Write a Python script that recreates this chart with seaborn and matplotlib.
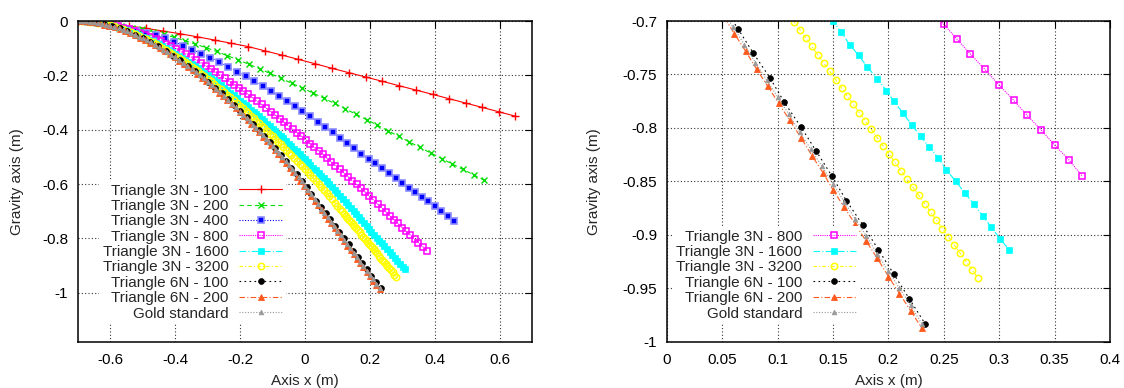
import matplotlib
matplotlib.use("Agg")
import matplotlib.pyplot as plt
import seaborn as sns

# ---------------- data ----------------
labels = ["Triangle 3N - 100", "Triangle 3N - 200", "Triangle 3N - 400",
          "Triangle 3N - 800", "Triangle 3N - 1600", "Triangle 3N - 3200",
          "Triangle 6N - 100", "Triangle 6N - 200", "Gold standard"]

tri3n_100_x = [-0.700, -0.648, -0.596, -0.543, -0.490, -0.437, -0.384, -0.332, -0.279, -0.227,
               -0.175, -0.123, -0.072, -0.021, 0.031, 0.083, 0.135, 0.187, 0.239, 0.290,
               0.342, 0.394, 0.445, 0.496, 0.547, 0.598, 0.648]
tri3n_100_y = [0.000, -0.005, -0.011, -0.018, -0.027, -0.037, -0.047, -0.058, -0.070, -0.082,
               -0.094, -0.110, -0.125, -0.141, -0.157, -0.174, -0.190, -0.206, -0.222, -0.238,
               -0.254, -0.270, -0.286, -0.302, -0.318, -0.334, -0.350]

tri3n_200_x = [-0.700, -0.667, -0.634, -0.601, -0.568, -0.535, -0.502, -0.469, -0.436, -0.404,
               -0.371, -0.338, -0.305, -0.272, -0.239, -0.206, -0.173, -0.140, -0.107, -0.074,
               -0.041, -0.008, 0.025, 0.058, 0.091, 0.124, 0.157, 0.190, 0.223, 0.256,
               0.289, 0.322, 0.355, 0.388, 0.421, 0.454, 0.487, 0.520, 0.553]
tri3n_200_y = [0.000, -0.003, -0.007, -0.012, -0.018, -0.024, -0.031, -0.039, -0.049, -0.060,
               -0.072, -0.085, -0.098, -0.112, -0.128, -0.143, -0.159, -0.176, -0.193, -0.211,
               -0.229, -0.247, -0.265, -0.284, -0.303, -0.323, -0.343, -0.363, -0.383, -0.404,
               -0.424, -0.445, -0.465, -0.486, -0.506, -0.526, -0.546, -0.566, -0.586]

tri3n_400_x = [-0.700, -0.670, -0.640, -0.610, -0.580, -0.550, -0.520, -0.490, -0.460, -0.432,
               -0.404, -0.376, -0.348, -0.320, -0.292, -0.264, -0.237, -0.210, -0.183, -0.157,
               -0.131, -0.106, -0.081, -0.056, -0.032, -0.008, 0.016, 0.039, 0.062, 0.085,
               0.108, 0.130, 0.152, 0.174, 0.196, 0.217, 0.238, 0.259, 0.280, 0.300,
               0.320, 0.340, 0.360, 0.380, 0.400, 0.420, 0.441, 0.461]
tri3n_400_y = [0.000, -0.004, -0.009, -0.015, -0.021, -0.028, -0.036, -0.044, -0.053, -0.064,
               -0.076, -0.091, -0.105, -0.120, -0.135, -0.151, -0.168, -0.186, -0.204, -0.221,
               -0.240, -0.258, -0.276, -0.294, -0.312, -0.331, -0.351, -0.371, -0.390, -0.410,
               -0.430, -0.450, -0.469, -0.488, -0.506, -0.524, -0.542, -0.559, -0.577, -0.595,
               -0.613, -0.630, -0.647, -0.664, -0.681, -0.699, -0.717, -0.736]

tri3n_800_x = [-0.700, -0.682, -0.665, -0.647, -0.630, -0.612, -0.595, -0.578, -0.561, -0.544,
               -0.527, -0.510, -0.494, -0.477, -0.461, -0.445, -0.429, -0.413, -0.397, -0.381,
               -0.366, -0.351, -0.336, -0.321, -0.306, -0.291, -0.276, -0.261, -0.247, -0.232,
               -0.218, -0.204, -0.190, -0.176, -0.162, -0.148, -0.134, -0.120, -0.106, -0.092,
               -0.078, -0.065, -0.051, -0.038, -0.024, -0.011, 0.002, 0.016, 0.029, 0.042,
               0.055, 0.068, 0.081, 0.094, 0.107, 0.120, 0.133, 0.146, 0.159, 0.172,
               0.185, 0.198, 0.211, 0.224, 0.237, 0.250, 0.262, 0.274, 0.287, 0.300,
               0.313, 0.325, 0.338, 0.350, 0.363, 0.375]
tri3n_800_y = [0.000, -0.000, -0.001, -0.003, -0.006, -0.009, -0.013, -0.019, -0.024, -0.029,
               -0.036, -0.043, -0.050, -0.058, -0.066, -0.074, -0.083, -0.092, -0.102, -0.113,
               -0.122, -0.132, -0.143, -0.154, -0.165, -0.176, -0.188, -0.199, -0.210, -0.223,
               -0.234, -0.246, -0.258, -0.270, -0.282, -0.295, -0.307, -0.320, -0.333, -0.346,
               -0.359, -0.372, -0.385, -0.398, -0.411, -0.424, -0.437, -0.451, -0.465, -0.478,
               -0.491, -0.505, -0.518, -0.532, -0.545, -0.559, -0.573, -0.587, -0.601, -0.615,
               -0.629, -0.643, -0.658, -0.673, -0.688, -0.703, -0.717, -0.731, -0.745, -0.760,
               -0.774, -0.788, -0.802, -0.816, -0.830, -0.845]

tri3n_1600_x = [-0.700, -0.6875, -0.675, -0.6625, -0.650, -0.6375, -0.625, -0.6125, -0.600, -0.5875,
                -0.575, -0.5625, -0.550, -0.5375, -0.525, -0.5125,
                -0.50, -0.49, -0.48, -0.47, -0.46, -0.45, -0.44, -0.43, -0.42, -0.41,
                -0.40, -0.39, -0.38, -0.37, -0.36, -0.35, -0.34, -0.33, -0.32, -0.31,
                -0.30, -0.29, -0.28, -0.27, -0.26, -0.25, -0.24, -0.23, -0.22, -0.21,
                -0.200, -0.1917, -0.1833, -0.175, -0.1667, -0.1583, -0.150, -0.1417, -0.1333, -0.125,
                -0.1167, -0.1083, -0.100, -0.0917, -0.0833, -0.075, -0.0667, -0.0583, -0.050, -0.0417,
                -0.0333, -0.025, -0.0167, -0.0083, 0.000, 0.0083, 0.0167, 0.025, 0.0333, 0.0417,
                0.050, 0.0583, 0.0667, 0.075, 0.0833, 0.0917, 0.100, 0.1083, 0.1167, 0.125,
                0.1333, 0.1417,
                0.150, 0.157, 0.165, 0.173, 0.181, 0.190, 0.198, 0.205, 0.213, 0.221,
                0.229, 0.237, 0.245, 0.252, 0.261, 0.269, 0.277, 0.285, 0.293, 0.301, 0.309]
tri3n_1600_y = [0.000, -0.000, -0.001, -0.002, -0.004, -0.006, -0.009, -0.012, -0.015, -0.019,
                -0.024, -0.029, -0.034, -0.039, -0.045, -0.051,
                -0.057, -0.063, -0.068, -0.074, -0.080, -0.086, -0.093, -0.099, -0.106, -0.113,
                -0.120, -0.127, -0.135, -0.142, -0.150, -0.158, -0.166, -0.174, -0.183, -0.191,
                -0.200, -0.209, -0.217, -0.226, -0.236, -0.245, -0.254, -0.264, -0.273, -0.283,
                -0.293, -0.301, -0.309, -0.317, -0.326, -0.334, -0.343, -0.351, -0.360, -0.369,
                -0.378, -0.387, -0.396, -0.405, -0.414, -0.423, -0.432, -0.441, -0.451, -0.460,
                -0.470, -0.479, -0.489, -0.499, -0.509, -0.519, -0.528, -0.539, -0.549, -0.559,
                -0.569, -0.579, -0.590, -0.600, -0.611, -0.621, -0.632, -0.643, -0.654, -0.665,
                -0.676, -0.688,
                -0.700, -0.710, -0.722, -0.732, -0.743, -0.754, -0.765, -0.775, -0.786, -0.797,
                -0.808, -0.818, -0.828, -0.839, -0.850, -0.861, -0.871, -0.882, -0.893, -0.904, -0.914]

tri3n_3200_x = [-0.700, -0.6875, -0.675, -0.6625, -0.650, -0.6375, -0.625, -0.6125, -0.600, -0.5875,
                -0.575, -0.5625, -0.550, -0.5375, -0.525, -0.5125,
                -0.50, -0.49, -0.48, -0.47, -0.46, -0.45, -0.44, -0.43, -0.42, -0.41,
                -0.40, -0.39, -0.38, -0.37, -0.36, -0.35, -0.34, -0.33, -0.32, -0.31,
                -0.30, -0.29, -0.28, -0.27, -0.26, -0.25, -0.24, -0.23, -0.22, -0.21,
                -0.200, -0.1917, -0.1833, -0.175, -0.1667, -0.1583, -0.150, -0.1417, -0.1333, -0.125,
                -0.1167, -0.1083, -0.100, -0.0917, -0.0833, -0.075, -0.0667, -0.0583, -0.050, -0.0417,
                -0.0333, -0.025, -0.0167, -0.0083, 0.000, 0.0083, 0.0167, 0.025, 0.0333, 0.0417,
                0.050, 0.0583, 0.0667, 0.075, 0.0833, 0.0917, 0.100, 0.1083,
                0.1148, 0.1202, 0.1255, 0.1309, 0.1362, 0.1416, 0.1470, 0.1523, 0.1577, 0.1630,
                0.1684, 0.1738, 0.1791, 0.1845, 0.1898, 0.1952, 0.2006, 0.2059, 0.2113, 0.2166,
                0.2220, 0.2274, 0.2327, 0.2381, 0.2434, 0.2488, 0.2542, 0.2595, 0.2649, 0.2702,
                0.2756, 0.2810]
tri3n_3200_y = [0.000, -0.000, -0.001, -0.002, -0.004, -0.006, -0.009, -0.012, -0.016, -0.020,
                -0.025, -0.030, -0.036, -0.041, -0.048, -0.054,
                -0.061, -0.067, -0.072, -0.079, -0.085, -0.092, -0.098, -0.105, -0.113, -0.120,
                -0.127, -0.135, -0.143, -0.151, -0.159, -0.168, -0.176, -0.185, -0.194, -0.203,
                -0.212, -0.222, -0.231, -0.241, -0.251, -0.261, -0.271, -0.281, -0.291, -0.302,
                -0.312, -0.321, -0.330, -0.339, -0.348, -0.357, -0.367, -0.376, -0.385, -0.395,
                -0.404, -0.414, -0.424, -0.434, -0.444, -0.453, -0.463, -0.474, -0.484, -0.494,
                -0.504, -0.514, -0.525, -0.535, -0.546, -0.557, -0.567, -0.578, -0.589, -0.600,
                -0.611, -0.622, -0.633, -0.645, -0.656, -0.668, -0.679, -0.691,
                -0.7006, -0.7083, -0.7161, -0.7238, -0.7316, -0.7393, -0.7470, -0.7548, -0.7625, -0.7703,
                -0.7780, -0.7857, -0.7935, -0.8012, -0.8090, -0.8167, -0.8244, -0.8322, -0.8399, -0.8477,
                -0.8554, -0.8631, -0.8709, -0.8786, -0.8864, -0.8941, -0.9018, -0.9096, -0.9173, -0.9251,
                -0.9328, -0.9405]

tri6n_100_x = [-0.700, -0.693, -0.679, -0.661, -0.641, -0.619, -0.596, -0.572, -0.548, -0.524,
               -0.501, -0.477, -0.453, -0.430, -0.407, -0.384, -0.362, -0.340, -0.319, -0.298,
               -0.277, -0.257, -0.237, -0.218, -0.199, -0.180, -0.161, -0.143, -0.126, -0.108,
               -0.091, -0.074, -0.058, -0.042, -0.026, -0.010, 0.005, 0.020, 0.035, 0.049,
               0.064, 0.078, 0.093, 0.106, 0.121, 0.135, 0.149, 0.162, 0.177, 0.191,
               0.205, 0.219, 0.233]
tri6n_100_y = [0.000, 0.000, -0.001, -0.002, -0.006, -0.011, -0.018, -0.027, -0.037, -0.050,
               -0.062, -0.077, -0.092, -0.109, -0.127, -0.145, -0.164, -0.183, -0.203, -0.224,
               -0.245, -0.266, -0.288, -0.310, -0.331, -0.354, -0.378, -0.400, -0.422, -0.446,
               -0.469, -0.493, -0.516, -0.540, -0.564, -0.589, -0.612, -0.636, -0.661, -0.683,
               -0.707, -0.730, -0.753, -0.776, -0.799, -0.822, -0.845, -0.868, -0.891, -0.914,
               -0.937, -0.960, -0.983]

tri6n_200_x = [-0.700, -0.696, -0.688, -0.677, -0.664, -0.650, -0.635, -0.619, -0.603, -0.587,
               -0.571, -0.555, -0.539, -0.523, -0.508, -0.492, -0.477, -0.462, -0.447, -0.432,
               -0.417, -0.402, -0.388, -0.374, -0.360, -0.346, -0.332, -0.318, -0.305, -0.291,
               -0.278, -0.265, -0.252, -0.239, -0.226, -0.214, -0.201, -0.189, -0.177, -0.165,
               -0.153, -0.141, -0.129, -0.117, -0.105, -0.093, -0.082, -0.070, -0.059, -0.047,
               -0.036, -0.025, -0.014, -0.003, 0.008, 0.019, 0.030, 0.040, 0.051,
               0.061, 0.071, 0.081, 0.091, 0.101, 0.111, 0.121, 0.131, 0.141, 0.150,
               0.160, 0.170, 0.180, 0.190, 0.200, 0.210, 0.220, 0.230]
tri6n_200_y = [0.000, 0.000, 0.000, -0.001, -0.003, -0.005, -0.009, -0.013, -0.017, -0.023,
               -0.030, -0.036, -0.044, -0.053, -0.061, -0.071, -0.080, -0.090, -0.100, -0.112,
               -0.123, -0.134, -0.146, -0.158, -0.170, -0.182, -0.196, -0.209, -0.222, -0.236,
               -0.250, -0.263, -0.277, -0.291, -0.306, -0.320, -0.335, -0.350, -0.364, -0.379,
               -0.393, -0.409, -0.425, -0.441, -0.457, -0.473, -0.489, -0.506, -0.522, -0.540,
               -0.556, -0.573, -0.590, -0.607, -0.625, -0.643, -0.661, -0.677, -0.695,
               -0.712, -0.728, -0.745, -0.761, -0.777, -0.793, -0.809, -0.826, -0.842, -0.858,
               -0.874, -0.890, -0.906, -0.922, -0.939, -0.955, -0.971, -0.987]

gold_x = [-0.700, -0.6875, -0.675, -0.6625, -0.650, -0.6375, -0.625, -0.6125, -0.600, -0.5875,
          -0.575, -0.5625, -0.550, -0.5375, -0.525, -0.5125, -0.500, -0.4875, -0.475, -0.4625,
          -0.450, -0.4375, -0.425, -0.4125, -0.400, -0.3875, -0.375, -0.3625, -0.350, -0.3375,
          -0.325, -0.3125, -0.300, -0.2875, -0.275, -0.2625, -0.250, -0.2375, -0.225, -0.2125,
          -0.20, -0.19, -0.18, -0.17, -0.16, -0.15, -0.14, -0.13, -0.12, -0.11,
          -0.10, -0.09, -0.08, -0.07, -0.06, -0.05, -0.04, -0.03, -0.02, -0.01,
          0.00, 0.01, 0.02, 0.03, 0.04, 0.05, 0.06, 0.07, 0.08, 0.09,
          0.10, 0.11, 0.12, 0.13, 0.14, 0.15, 0.16, 0.17, 0.18, 0.19,
          0.20, 0.21, 0.22, 0.23]
gold_y = [0.000, -0.000, -0.001, -0.002, -0.004, -0.007, -0.010, -0.013, -0.017, -0.022,
          -0.026, -0.032, -0.037, -0.043, -0.050, -0.057, -0.064, -0.071, -0.079, -0.087,
          -0.096, -0.105, -0.114, -0.124, -0.134, -0.144, -0.154, -0.165, -0.176, -0.187,
          -0.199, -0.211, -0.224, -0.236, -0.249, -0.262, -0.276, -0.290, -0.304, -0.318,
          -0.333, -0.344, -0.357, -0.369, -0.381, -0.394, -0.407, -0.420, -0.433, -0.446,
          -0.460, -0.473, -0.487, -0.501, -0.516, -0.530, -0.545, -0.560, -0.575, -0.590,
          -0.606, -0.622, -0.638, -0.655, -0.672, -0.690, -0.706, -0.722, -0.739, -0.755,
          -0.771, -0.787, -0.804, -0.820, -0.836, -0.852, -0.869, -0.885, -0.901, -0.918,
          -0.934, -0.950, -0.966, -0.983]

left_xticks = [-0.6, -0.4, -0.2, 0, 0.2, 0.4, 0.6]
left_xticklabels = ["-0.6", "-0.4", "-0.2", "0", "0.2", "0.4", "0.6"]
left_yticks = [0, -0.2, -0.4, -0.6, -0.8, -1]
left_yticklabels = ["0", "-0.2", "-0.4", "-0.6", "-0.8", "-1"]
right_xticks = [0, 0.05, 0.1, 0.15, 0.2, 0.25, 0.3, 0.35, 0.4]
right_xticklabels = ["0", "0.05", "0.1", "0.15", "0.2", "0.25", "0.3", "0.35", "0.4"]
right_yticks = [-0.7, -0.75, -0.8, -0.85, -0.9, -0.95, -1]
right_yticklabels = ["-0.7", "-0.75", "-0.8", "-0.85", "-0.9", "-0.95", "-1"]

# ---------------- styling ----------------
series = [
    (tri3n_100_x, tri3n_100_y, dict(color="#ff0000", ls="-", marker="+", ms=5.5, mew=1.0, mfc="#ff0000", mec="#ff0000")),
    (tri3n_200_x, tri3n_200_y, dict(color="#00dd00", ls=(0, (4, 3)), marker="x", ms=4.5, mew=1.0, mfc="#00dd00", mec="#00dd00")),
    (tri3n_400_x, tri3n_400_y, dict(color="#0000ff", ls=(0, (1, 1.5)), marker="s", ms=4.0, mew=1.2, mfc="#0000ff", mec="#8c8cff")),
    (tri3n_800_x, tri3n_800_y, dict(color="#ff00ff", ls=(0, (1, 1)), marker="s", ms=4.3, mew=1.1, mfc="none", mec="#ff00ff")),
    (tri3n_1600_x, tri3n_1600_y, dict(color="#00ffff", ls=(0, (6, 2, 1, 2)), marker="s", ms=4.0, mew=0.5, mfc="#00ffff", mec="#00ffff")),
    (tri3n_3200_x, tri3n_3200_y, dict(color="#ffff00", ls=(0, (3, 2, 1, 2)), marker="o", ms=4.6, mew=1.1, mfc="none", mec="#ffff00")),
    (tri6n_100_x, tri6n_100_y, dict(color="#000000", ls=(0, (1.5, 3)), marker="o", ms=4.2, mew=0.5, mfc="#000000", mec="#000000")),
    (tri6n_200_x, tri6n_200_y, dict(color="#ff5a1e", ls=(0, (5, 2, 1, 2)), marker="^", ms=4.8, mew=0.6, mfc="#ff5a1e", mec="#ff5a1e")),
    (gold_x, gold_y, dict(color="#999999", ls=(0, (1, 1.5)), marker="^", ms=3.4, mew=0.5, mfc="#999999", mec="#999999")),
]

sns.set_style("white")
plt.rcParams["font.family"] = ["Liberation Sans", "DejaVu Sans"]
plt.rcParams["font.size"] = 11

fig = plt.figure(figsize=(11.24, 3.88), dpi=100)
ax_left = fig.add_axes([0.0694, 0.1193, 0.4039, 0.8265])
ax_right = fig.add_axes([0.5933, 0.1193, 0.3942, 0.8265])


def draw_series(ax, idx):
    for i in idx:
        xs, ys, st = series[i]
        sns.lineplot(x=xs, y=ys, ax=ax, sort=False, estimator=None, legend=False,
                     color=st["color"])
        line = ax.lines[-1]
        line.set_label(labels[i])
        line.set_linestyle(st["ls"])
        line.set_linewidth(0.8)
        line.set_marker(st["marker"])
        line.set_markersize(st["ms"])
        line.set_markeredgewidth(st["mew"])
        line.set_markerfacecolor(st["mfc"])
        line.set_markeredgecolor(st["mec"])


def style_axes(ax, xlim, ylim, xt, xtl, yt, ytl, ylab_x):
    ax.set_xlim(*xlim)
    ax.set_ylim(*ylim)
    ax.set_xticks(xt)
    ax.set_xticklabels(xtl)
    ax.set_yticks(yt)
    ax.set_yticklabels(ytl)
    ax.tick_params(direction="in", length=5, width=0.8, top=True, right=True,
                   labelsize=11, colors="black")
    ax.tick_params(axis="x", pad=8)
    ax.tick_params(axis="y", pad=7)
    ax.grid(True, color="#333333", linestyle=(0, (1, 2)), linewidth=0.8)
    ax.set_axisbelow(True)
    for sp in ax.spines.values():
        sp.set_visible(True)
        sp.set_color("black")
        sp.set_linewidth(1.1)
    ax.set_xlabel("Axis x (m)", fontsize=11)
    ax.set_ylabel("Gravity axis (m)", fontsize=11)
    ax.xaxis.set_label_coords(0.5, -0.10)
    ax.yaxis.set_label_coords(ylab_x, 0.5)


def add_legend(ax, anchor):
    leg = ax.legend(loc="lower right", bbox_to_anchor=anchor, fontsize=11,
                    markerfirst=False, handlelength=2.8, handletextpad=0.7,
                    labelspacing=0.09, borderpad=0.25, borderaxespad=0,
                    frameon=True, fancybox=False, framealpha=1,
                    facecolor="white", edgecolor="none", numpoints=1)
    leg.set_zorder(10)
    return leg


draw_series(ax_left, range(9))
style_axes(ax_left, (-0.7, 0.7), (-1.18, 0), left_xticks, left_xticklabels,
           left_yticks, left_yticklabels, -0.12)
add_legend(ax_left, (0.4577, 0.054))

draw_series(ax_right, range(3, 9))
style_axes(ax_right, (0, 0.4), (-1, -0.7), right_xticks, right_xticklabels,
           right_yticks, right_yticklabels, -0.149)
add_legend(ax_right, (0.4347, 0.054))

fig.savefig("out.png", dpi=100)
